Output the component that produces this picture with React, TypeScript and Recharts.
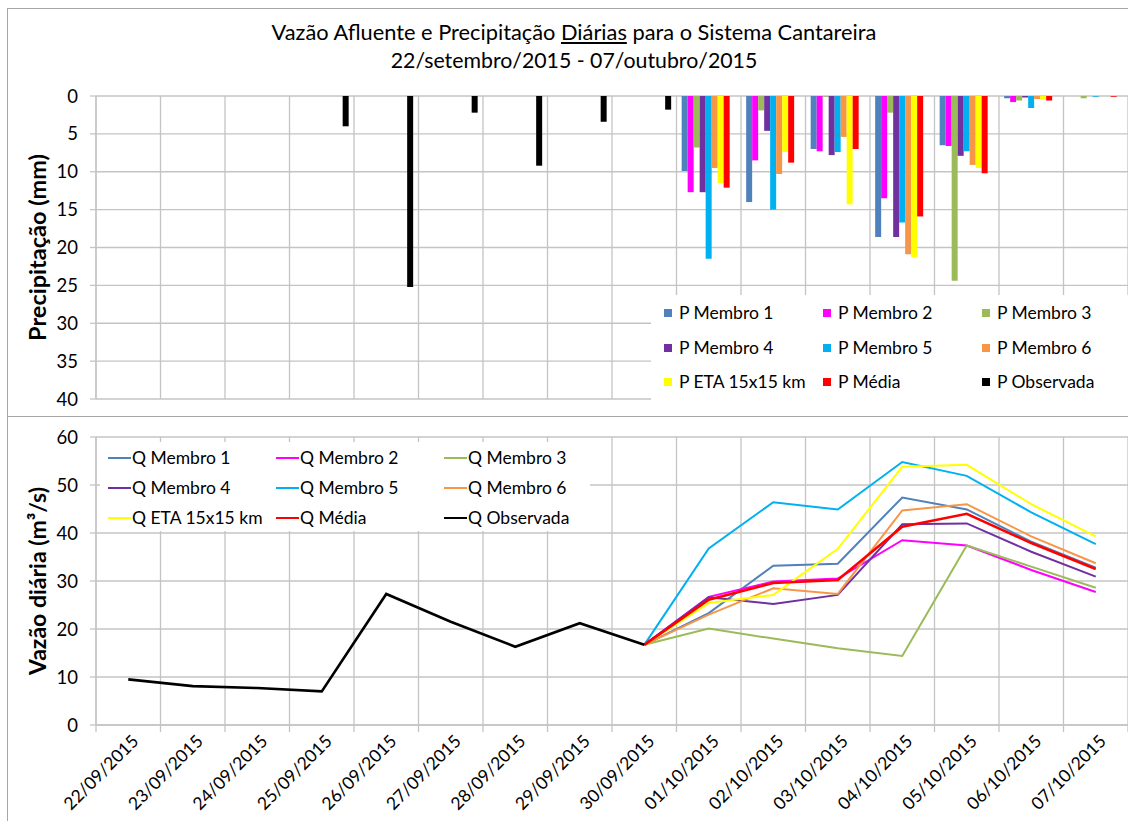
import React from 'react';
import { BarChart, ComposedChart, Bar, Line, XAxis, YAxis, CartesianGrid, Legend } from 'recharts';

const dates = [
  '22/09/2015', '23/09/2015', '24/09/2015', '25/09/2015', '26/09/2015', '27/09/2015', '28/09/2015', '29/09/2015',
  '30/09/2015', '01/10/2015', '02/10/2015', '03/10/2015', '04/10/2015', '05/10/2015', '06/10/2015', '07/10/2015',
];

// precipitação diária (mm) - previsões só a partir de 01/10
const pMembro1 = [null, null, null, null, null, null, null, null, null, 9.9, 14.0, 7.0, 18.6, 6.5, 0.3, 0];
const pMembro2 = [null, null, null, null, null, null, null, null, null, 12.7, 8.5, 7.3, 13.5, 6.6, 0.8, 0];
const pMembro3 = [null, null, null, null, null, null, null, null, null, 6.8, 1.9, 0.1, 2.2, 24.4, 0.6, 0.3];
const pMembro4 = [null, null, null, null, null, null, null, null, null, 12.7, 4.6, 7.8, 18.6, 7.9, 0.2, 0];
const pMembro5 = [null, null, null, null, null, null, null, null, null, 21.5, 15.0, 7.4, 16.7, 7.3, 1.6, 0.1];
const pMembro6 = [null, null, null, null, null, null, null, null, null, 9.5, 10.3, 5.4, 20.9, 9.1, 0.4, 0];
const pEta = [null, null, null, null, null, null, null, null, null, 11.5, 7.4, 14.3, 21.3, 9.5, 0.5, 0];
const pMedia = [null, null, null, null, null, null, null, null, null, 12.1, 8.8, 7.0, 15.9, 10.2, 0.6, 0.1];
const pObservada = [0, 0, 0, 4.0, 25.2, 2.2, 9.2, 3.4, 1.8, null, null, null, null, null, null, null];

// vazão diária (m3/s)
const qMembro1 = [null, null, null, null, null, null, null, null, 16.7, 23.3, 33.2, 33.6, 47.4, 44.9, 38.2, 32.8];
const qMembro2 = [null, null, null, null, null, null, null, null, 16.7, 26.7, 29.9, 30.5, 38.5, 37.4, 32.3, 27.7];
const qMembro3 = [null, null, null, null, null, null, null, null, 16.7, 20.1, 18.0, 16.0, 14.4, 37.4, 33.0, 28.6];
const qMembro4 = [null, null, null, null, null, null, null, null, 16.7, 26.6, 25.2, 27.1, 41.8, 42.0, 36.1, 30.9];
const qMembro5 = [null, null, null, null, null, null, null, null, 16.7, 36.8, 46.4, 44.9, 54.8, 51.9, 44.3, 37.7];
const qMembro6 = [null, null, null, null, null, null, null, null, 16.7, 23.0, 28.5, 27.3, 44.7, 46.0, 39.3, 33.7];
const qEta = [null, null, null, null, null, null, null, null, 16.7, 25.4, 27.1, 36.7, 53.8, 54.2, 46.0, 39.3];
const qMedia = [null, null, null, null, null, null, null, null, 16.7, 26.1, 29.6, 30.2, 41.3, 44.0, 37.9, 32.5];
const qObservada = [9.5, 8.1, 7.7, 7.0, 27.3, 21.5, 16.3, 21.2, 16.7, null, null, null, null, null, null, null];

const precipTicks = [0, 5, 10, 15, 20, 25, 30, 35, 40];
const vazaoTicks = [0, 10, 20, 30, 40, 50, 60];

const seriesNames = ['Membro 1', 'Membro 2', 'Membro 3', 'Membro 4', 'Membro 5', 'Membro 6', 'ETA 15x15 km', 'Média', 'Observada'];
const colors = ['#4f81bd', '#ff00ff', '#9bbb59', '#7030a0', '#00b0f0', '#f79646', '#ffff00', '#ff0000', '#000000'];
const pSeries = [pMembro1, pMembro2, pMembro3, pMembro4, pMembro5, pMembro6, pEta, pMedia, pObservada];
const qSeries = [qMembro1, qMembro2, qMembro3, qMembro4, qMembro5, qMembro6, qEta, qMedia, qObservada];

const precipData = dates.map((date, i) => {
  const row: any = { date };
  pSeries.forEach((s, k) => (row['p' + k] = s[i]));
  return row;
});
const vazaoData = dates.map((date, i) => {
  const row: any = { date };
  qSeries.forEach((s, k) => (row['q' + k] = s[i]));
  return row;
});

const FONT = 'Lato, "Open Sans", sans-serif';
const GRID = '#c4c4c4';
const W = 1128;
const M_LEFT = 28;
const Y_W = 60;
const M_RIGHT = 8;
const band = (W - M_LEFT - Y_W - M_RIGHT) / dates.length;

const boundaries = ({ offset }: any) =>
  dates.map((_, i) => offset.left + i * (offset.width / dates.length)).concat(offset.left + offset.width);

const DateTick = (props: any) => {
  const { x, y, payload, index } = props;
  const tx = x + 7;
  const ty = y + 13;
  return (
    <g>
      <line x1={x - band / 2} x2={x - band / 2} y1={y} y2={y + 7} stroke={GRID} strokeWidth={1.3} />
      {index === dates.length - 1 && (
        <line x1={x + band / 2} x2={x + band / 2} y1={y} y2={y + 7} stroke={GRID} strokeWidth={1.3} />
      )}
      <text
        x={tx}
        y={ty}
        dy="0.35em"
        textAnchor="end"
        transform={`rotate(-45, ${tx}, ${ty})`}
        fontSize={17.5}
        fontFamily={FONT}
        fill="#000"
      >
        {payload.value}
      </text>
    </g>
  );
};

const ordered = (payload: any[], prefix: string) =>
  seriesNames.map((n) => payload.find((p: any) => p.value === prefix + n)).filter(Boolean);

const renderPrecipLegend = (props: any) => (
  <div style={{ position: 'relative', width: '100%', height: '100%', fontFamily: FONT, fontSize: 17.5 }}>
    {ordered(props.payload, 'P ').map((item: any, i: number) => (
      <div
        key={item.value}
        style={{
          position: 'absolute',
          left: 13 + (i % 3) * 159,
          top: 18 + Math.floor(i / 3) * 34.5 - 11,
          height: 22,
          lineHeight: '22px',
          whiteSpace: 'nowrap',
          display: 'flex',
          alignItems: 'center',
        }}
      >
        <span style={{ display: 'inline-block', width: 8, height: 8, background: item.color, marginRight: 7 }} />
        <span style={{ color: '#000' }}>{item.value}</span>
      </div>
    ))}
  </div>
);

const renderVazaoLegend = (props: any) => (
  <div style={{ position: 'relative', width: '100%', height: '100%', fontFamily: FONT, fontSize: 17.5 }}>
    {ordered(props.payload, 'Q ').map((item: any, i: number) => (
      <div
        key={item.value}
        style={{
          position: 'absolute',
          left: 8 + (i % 3) * 168,
          top: 16 + Math.floor(i / 3) * 30 - 11,
          height: 22,
          lineHeight: '22px',
          whiteSpace: 'nowrap',
          display: 'flex',
          alignItems: 'center',
        }}
      >
        <span style={{ display: 'inline-block', width: 23, height: 2.5, background: item.color, marginRight: 1 }} />
        <span style={{ color: '#000' }}>{item.value}</span>
      </div>
    ))}
  </div>
);

export default function App() {
  return (
    <div style={{ position: 'absolute', left: 0, top: 0, width: 1128, height: 821, overflow: 'hidden', background: '#fff', fontFamily: FONT }}>
      <div style={{ position: 'absolute', left: 7, top: 8, width: 1200, height: 409, border: '1.5px solid #a6a6a6', boxSizing: 'border-box' }} />
      <div style={{ position: 'absolute', left: 7, top: 416, width: 1200, height: 500, border: '1.5px solid #a6a6a6', boxSizing: 'border-box' }} />

      <div style={{ position: 'absolute', left: 0, top: 18, width: 1148, textAlign: 'center', fontSize: 21.8, lineHeight: '28px', color: '#000' }}>
        Vazão Afluente e Precipitação <span style={{ textDecoration: 'underline' }}>Diárias</span> para o Sistema Cantareira
        <br />
        <span style={{ fontSize: 21.3 }}>22/setembro/2015 - 07/outubro/2015</span>
      </div>

      <div style={{ position: 'absolute', left: 8, top: 8 }}>
        <BarChart
          width={W}
          height={409}
          data={precipData}
          margin={{ top: 88, right: M_RIGHT, bottom: 18, left: M_LEFT }}
          barCategoryGap="8%"
          barGap={0}
        >
          <CartesianGrid stroke={GRID} strokeWidth={1.3} verticalCoordinatesGenerator={boundaries} />
          <XAxis dataKey="date" hide />
          <YAxis
            reversed
            domain={[0, 40]}
            ticks={precipTicks}
            interval={0}
            width={Y_W}
            tickSize={6}
            tickMargin={12}
            axisLine={{ stroke: GRID, strokeWidth: 1.3 }}
            tickLine={{ stroke: GRID, strokeWidth: 1.3 }}
            tick={{ fill: '#000', fontSize: 18.5, fontFamily: FONT }}
            label={{
              value: 'Precipitação (mm)',
              angle: -90,
              position: 'insideLeft',
              offset: 2,
              style: { textAnchor: 'middle', fontSize: 23.5, fontWeight: 'bold', fontFamily: FONT, fill: '#000' },
            }}
          />
          <Legend
            layout="vertical"
            align="center"
            verticalAlign="middle"
            wrapperStyle={{ left: 643, top: 287, width: 485, height: 108, background: '#fff' }}
            content={renderPrecipLegend}
          />
          {seriesNames.map((name, k) => (
            <Bar key={k} dataKey={'p' + k} name={'P ' + name} fill={colors[k]} isAnimationActive={false} />
          ))}
        </BarChart>
      </div>

      <div style={{ position: 'absolute', left: 8, top: 417 }}>
        <ComposedChart
          width={W}
          height={404}
          data={vazaoData}
          margin={{ top: 20, right: M_RIGHT, bottom: 1, left: M_LEFT }}
        >
          <CartesianGrid stroke={GRID} strokeWidth={1.3} verticalCoordinatesGenerator={boundaries} />
          <XAxis
            dataKey="date"
            scale="band"
            height={95}
            interval={0}
            tickSize={0}
            tickMargin={0}
            tickLine={false}
            axisLine={{ stroke: GRID, strokeWidth: 1.3 }}
            tick={<DateTick />}
          />
          <YAxis
            domain={[0, 60]}
            ticks={vazaoTicks}
            interval={0}
            width={Y_W}
            tickSize={6}
            tickMargin={12}
            axisLine={{ stroke: GRID, strokeWidth: 1.3 }}
            tickLine={{ stroke: GRID, strokeWidth: 1.3 }}
            tick={{ fill: '#000', fontSize: 18.5, fontFamily: FONT }}
            label={{
              value: 'Vazão diária (m³/s)',
              angle: -90,
              position: 'insideLeft',
              offset: 2,
              style: { textAnchor: 'middle', fontSize: 23, fontWeight: 'bold', fontFamily: FONT, fill: '#000' },
            }}
          />
          <Legend
            layout="vertical"
            align="center"
            verticalAlign="middle"
            wrapperStyle={{ left: 92, top: 25, width: 490, height: 89, background: '#fff' }}
            content={renderVazaoLegend}
          />
          {seriesNames.map((name, k) => (
            <Line
              key={k}
              type="linear"
              dataKey={'q' + k}
              name={'Q ' + name}
              stroke={colors[k]}
              strokeWidth={k >= 7 ? 2.6 : 2}
              dot={false}
              connectNulls={false}
              isAnimationActive={false}
            />
          ))}
        </ComposedChart>
      </div>
    </div>
  );
}
